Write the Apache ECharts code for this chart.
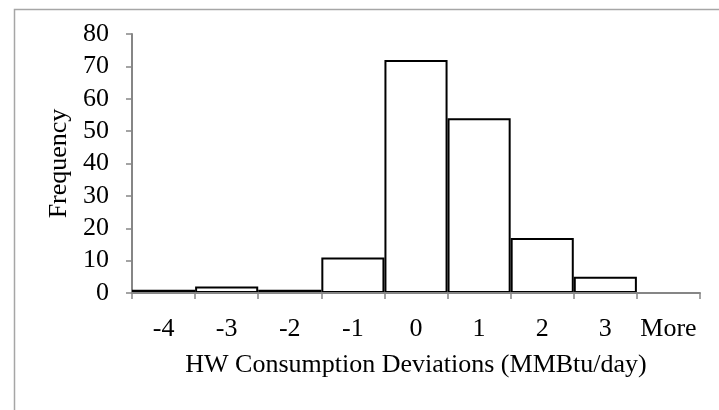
<!DOCTYPE html>
<html>
<head>
<meta charset="utf-8">
<title>HW Consumption Deviations</title>
<script src="https://cdn.jsdelivr.net/npm/echarts@6/dist/echarts.min.js"></script>
<style>
  html, body { margin: 0; padding: 0; background: #fff; }
  #chart { width: 719px; height: 410px; }
</style>
</head>
<body>
<div id="chart"></div>
<script>
// Histogram bins and counts
const binLabels = ['-4', '-3', '-2', '-1', '0', '1', '2', '3', 'More'];
const frequency = [1, 2, 1, 11, 72, 54, 17, 5, 0];

const yAxisMin = 0;
const yAxisMax = 80;
const yAxisStep = 10;

const serif = '"Liberation Serif", "DejaVu Serif", serif';
const axisGray = '#868686';

const chart = echarts.init(document.getElementById('chart'), null, { renderer: 'canvas' });

chart.setOption({
  animation: false,
  backgroundColor: '#ffffff',
  graphic: [{
    type: 'rect',
    left: 12,
    top: 7,
    shape: { width: 760, height: 460 },
    style: { fill: 'none', stroke: '#a6a6a6', lineWidth: 1.5 },
    silent: true
  }],
  grid: { left: 132, right: 19, top: 34, bottom: 117, containLabel: false },
  xAxis: {
    type: 'category',
    data: binLabels,
    boundaryGap: true,
    z: 5,
    name: 'HW Consumption Deviations (MMBtu/day)',
    nameLocation: 'middle',
    nameGap: 59,
    nameTextStyle: { fontFamily: serif, fontSize: 26, color: '#000' },
    axisLine: { show: true, lineStyle: { color: axisGray, width: 2 } },
    axisTick: { show: true, alignWithLabel: false, length: 6, lineStyle: { color: axisGray, width: 1.5 } },
    axisLabel: { fontFamily: serif, fontSize: 26, color: '#000', margin: 23, interval: 0 },
    splitLine: { show: false }
  },
  yAxis: {
    type: 'value',
    min: yAxisMin,
    max: yAxisMax,
    interval: yAxisStep,
    name: 'Frequency',
    nameLocation: 'middle',
    nameGap: 58,
    nameRotate: 90,
    nameTextStyle: { fontFamily: serif, fontSize: 26, color: '#000' },
    axisLine: { show: true, lineStyle: { color: axisGray, width: 2 } },
    axisTick: { show: true, length: 6, lineStyle: { color: axisGray, width: 1.5 } },
    axisLabel: { fontFamily: serif, fontSize: 26, color: '#000', margin: 23 },
    splitLine: { show: false }
  },
  series: [{
    type: 'bar',
    data: frequency,
    barCategoryGap: '0%',
    itemStyle: { color: '#ffffff', borderColor: '#000000', borderWidth: 2 },
    emphasis: { disabled: true }
  }]
});
</script>
</body>
</html>
